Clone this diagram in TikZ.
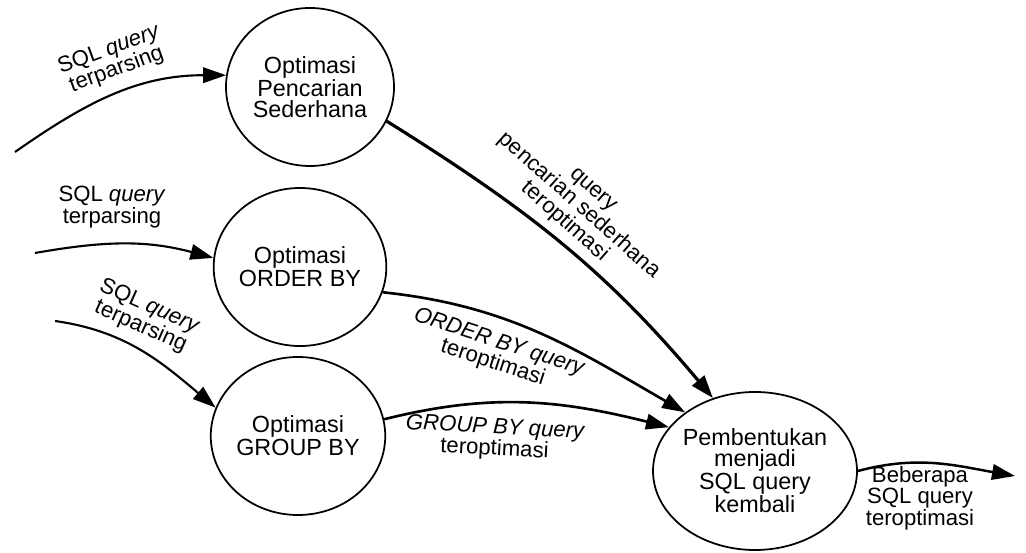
\documentclass[tikz,border=0pt]{standalone}
\usepackage{fontspec}
\setmainfont{Liberation Sans}
\usetikzlibrary{arrows.meta,shapes.geometric}

\tikzset{
    proses/.style={ellipse, draw, line width=1pt, minimum width=3.36cm,
        minimum height=3.16cm, inner sep=0pt, align=center,
        font=\fontsize{13.3}{11.6}\selectfont},
    alir/.style={-{Triangle[length=4.6mm, width=3.1mm]}, line width=1.2pt},
    ket/.style={align=center, inner sep=0pt, font=\fontsize{12.6}{12.2}\selectfont}
}

\begin{document}
\begin{tikzpicture}[x=0.2mm, y=0.2mm]
    % ukuran gambar
    \useasboundingbox (0,0) rectangle (1026,552);

    % proses
    \node[proses] (A) at (310,465) {Optimasi\\Pencarian\\Sederhana};
    \node[proses] (B) at (300,285) {Optimasi\\ORDER BY};
    \node[proses] (C) at (298,116) {Optimasi\\GROUP BY};
    \node[proses] (D) at (755,81) {Pembentukan\\menjadi\\SQL query\\kembali};

    % ujung bebas
    \coordinate (s1) at (15,400);
    \coordinate (s2) at (35,299);
    \coordinate (s3) at (55,231);
    \coordinate (t1) at (1015,76);

    % aliran data
    \draw[alir] (s1) to[out=35,in=180] (A.172);
    \draw[alir] (s2) to[out=10,in=165] (B.174);
    \draw[alir] (s3) to[out=-8,in=140] (C.161);
    \draw[alir, line width=1.8pt] (A.-24) to[out=-32,in=130] (D.120);
    \draw[alir, line width=1.5pt] (B.-17) to[out=-6,in=150] (D.140);
    \draw[alir, line width=1.5pt] (C.11) to[out=14,in=166] (D.153);
    \draw[alir, line width=1.4pt] (D.0) to[out=15,in=170] (t1);

    % keterangan
    \node[ket, rotate=20] (kA) at (113,492) {SQL \textit{query}\\terparsing};
    \node[ket] (kB) at (112,345) {SQL \textit{query}\\terparsing};
    \node[ket, rotate=-24] (kC) at (145,235) {SQL \textit{query}\\terparsing};
    \node[ket, rotate=-41.5] (kAD) at (578,345) {query\\pencarian sederhana\\teroptimasi};
    \node[ket, rotate=-18] (kBD) at (496,199) {\textit{ORDER BY query}\\teroptimasi};
    \node[ket, rotate=-3] (kCD) at (495,113) {\textit{GROUP BY query}\\teroptimasi};
    \node[ket] (kD) at (920,54) {Beberapa\\SQL query\\teroptimasi};

\end{tikzpicture}
\end{document}
